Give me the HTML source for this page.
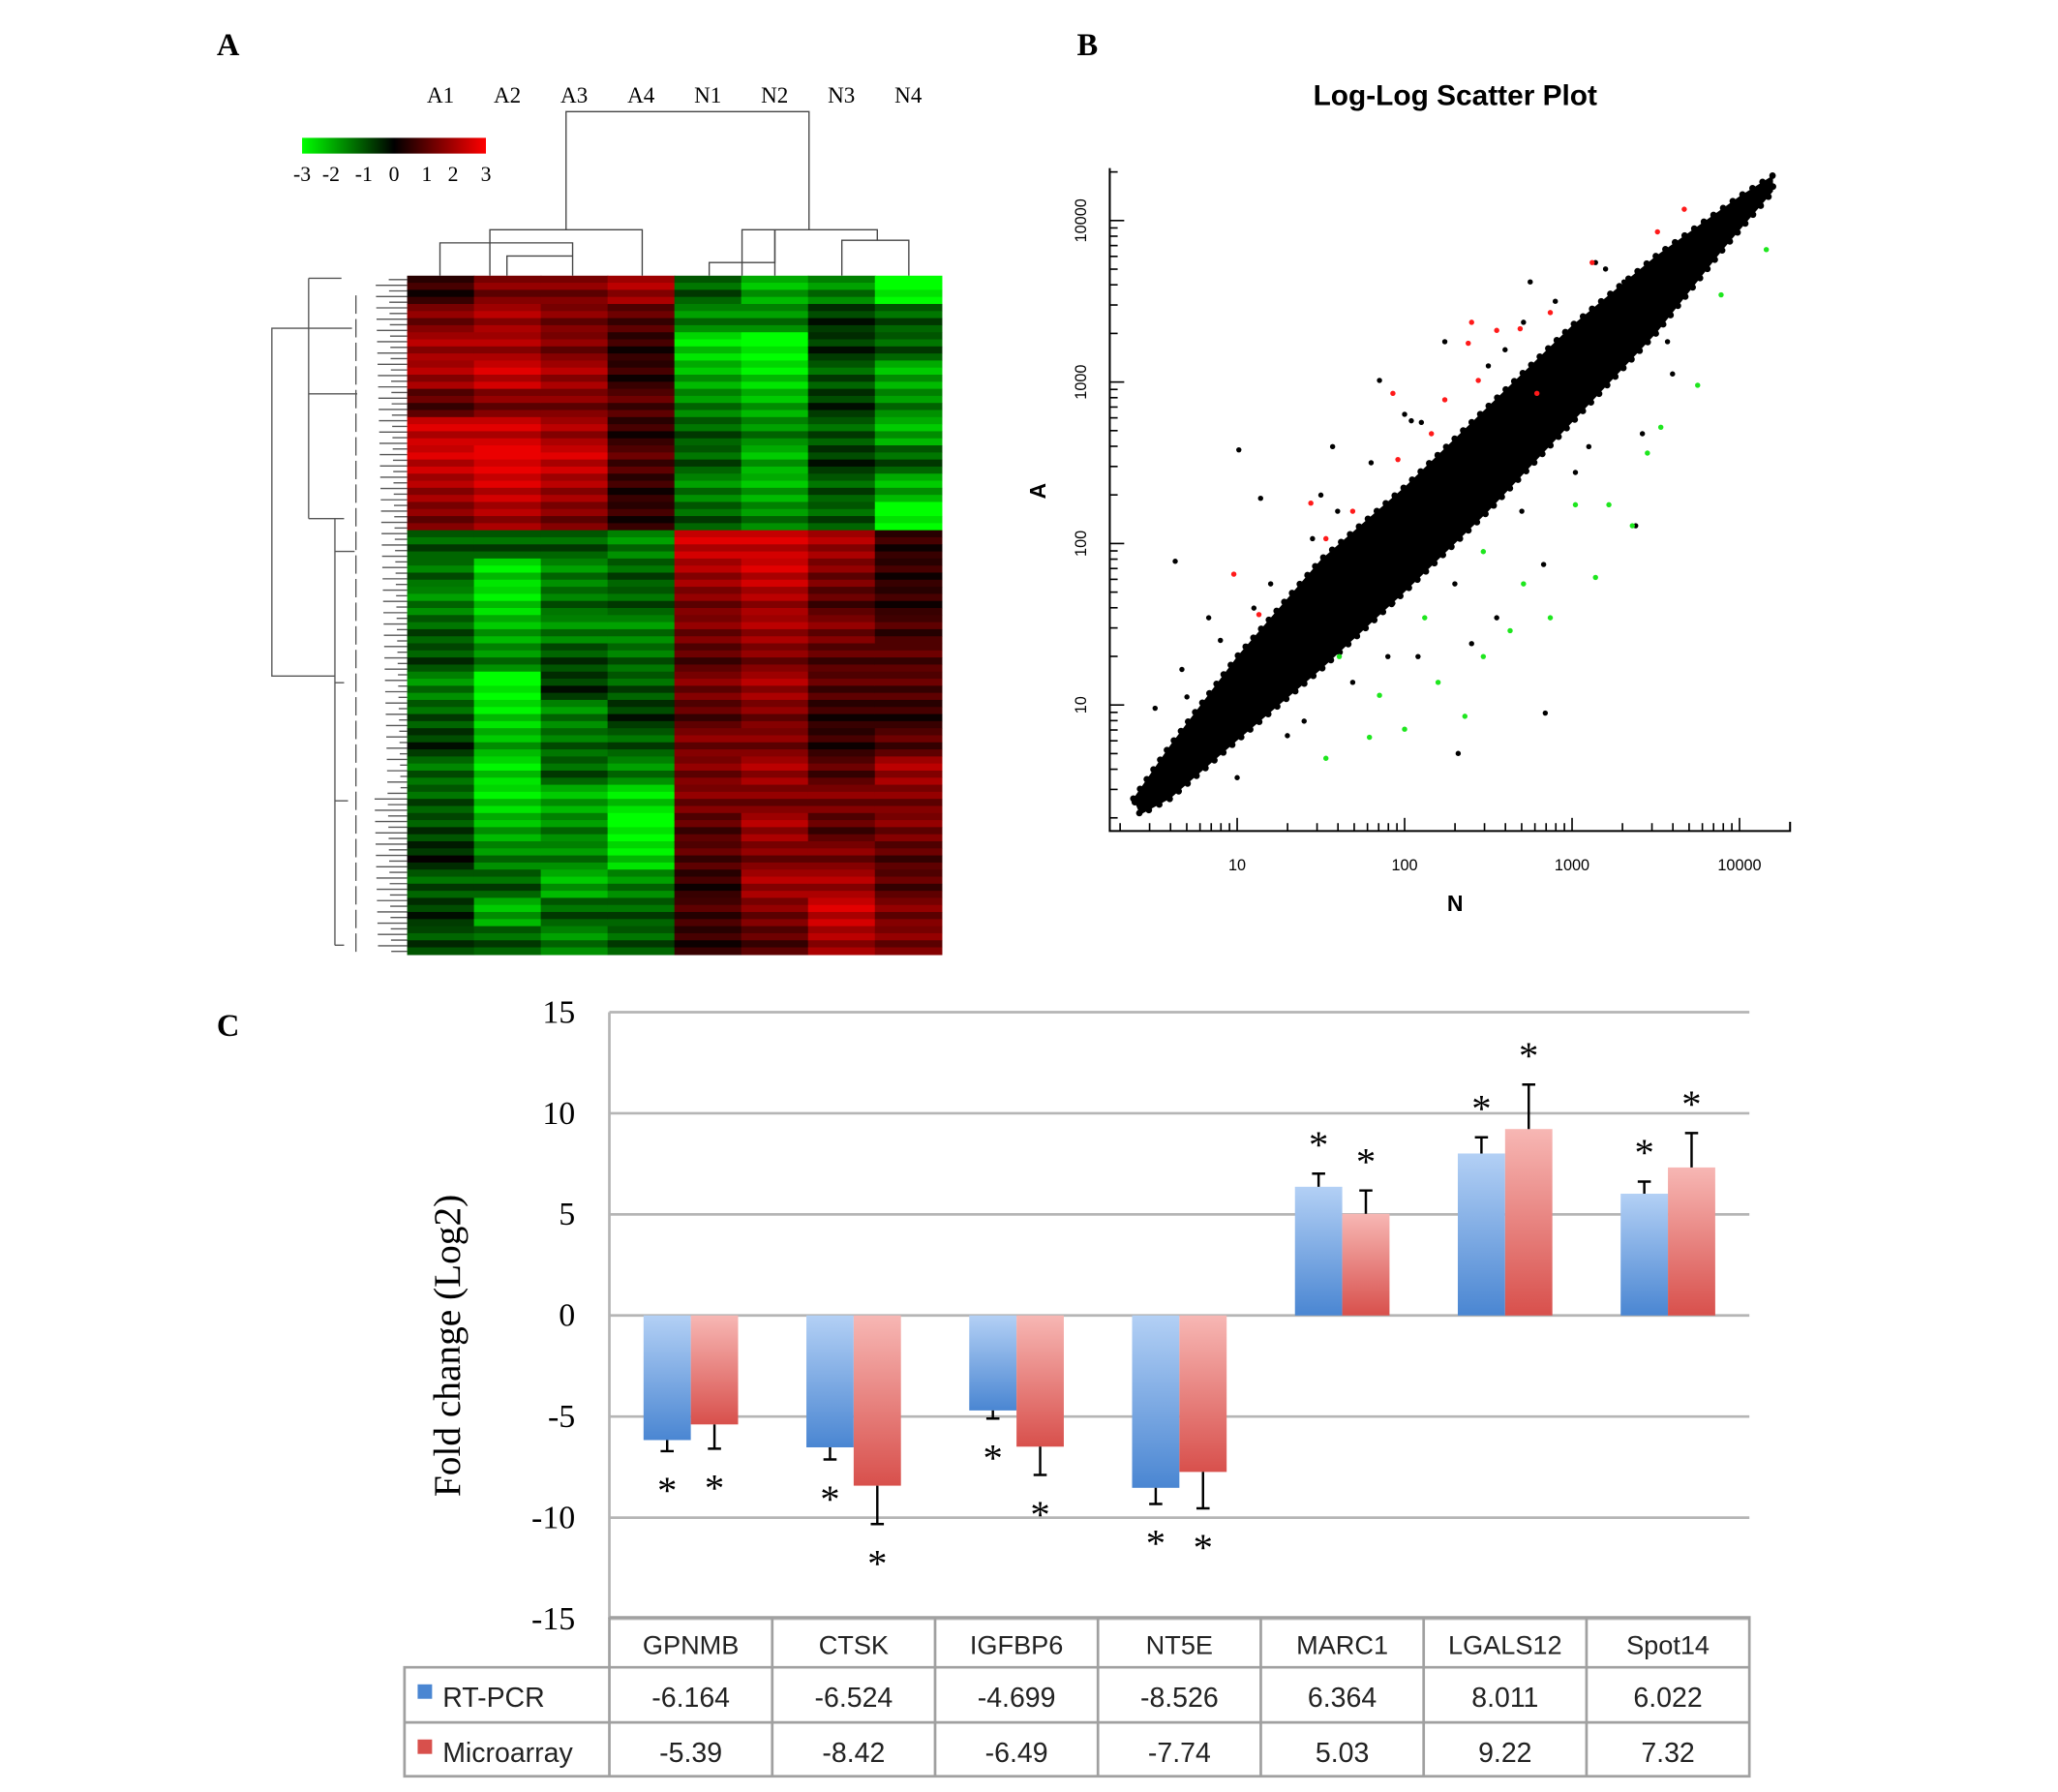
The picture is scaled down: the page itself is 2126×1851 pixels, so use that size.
<!DOCTYPE html>
<html><head><meta charset="utf-8"><style>
html,body{margin:0;padding:0;background:#fff}
svg{display:block}
.tm{font-family:"Liberation Serif",serif}
.ss{font-family:"Liberation Sans",sans-serif}
</style></head><body>
<svg id="fig" xmlns="http://www.w3.org/2000/svg" width="2126" height="1851" viewBox="0 0 1567 1365" preserveAspectRatio="none">
<defs>
<linearGradient id="gb" x1="0" y1="0" x2="0" y2="1"><stop offset="0" stop-color="#b3d0f5"/><stop offset="1" stop-color="#4a86d2"/></linearGradient>
<linearGradient id="gr" x1="0" y1="0" x2="0" y2="1"><stop offset="0" stop-color="#f7b7b4"/><stop offset="1" stop-color="#d8504c"/></linearGradient>
<linearGradient id="cbar" x1="0" y1="0" x2="1" y2="0"><stop offset="0" stop-color="#00ff00"/><stop offset="0.5" stop-color="#000"/><stop offset="1" stop-color="#ff0000"/></linearGradient>
</defs>
<text class="tm" x="165" y="42" font-size="24" font-weight="bold">A</text>
<text class="tm" x="820" y="42" font-size="24" font-weight="bold">B</text>
<text class="tm" x="165" y="789" font-size="24" font-weight="bold">C</text>
<g id="heat"></g>
<g id="scatter"></g>
<g id="bars"></g>
</svg>
<script>
const NS="http://www.w3.org/2000/svg";
function mk(tag,attrs,parent,txt){const e=document.createElementNS(NS,tag);for(const k in attrs)e.setAttribute(k,attrs[k]);if(txt!==undefined)e.textContent=txt;parent.appendChild(e);return e;}

// ---------- Heatmap data ----------
const heatSamples=["A1","A2","A3","A4","N1","N2","N3","N4"];
const heatA1=[0.5,1.5,2,2,1,2.5,2.5,2,1.5,-1,-1.2,-1.5,-1,-0.8,-1.5,-1,-0.5,-1.2,-1,-0.8,-0.3,-1,-0.5,-0.8];
const heatA2=[1.5,2,2,2.5,1.5,2.5,3,2.5,2,-1,-2.5,-2.5,-2,-1.5,-3,-2.5,-2,-2.5,-2.5,-2,-1.5,-1,-2,-1];
const heatA3=[1.5,1.5,1.5,2,1.5,2,2.5,2,1.5,-1,-1.5,-1.2,-1.5,-0.8,-0.5,-1.5,-1.2,-1,-2,-1.5,-1.5,-2,-1,-1.5];
const heatA4=[2,1,0.5,0.5,1,0.5,1,0.5,0.5,-1.5,-1,-1,-1.5,-1.2,-1,-0.5,-1,-1.5,-2.5,-3,-2.5,-1.5,-1,-1];
const heatN1=[-1,-1.5,-2.5,-2,-1.5,-1,-1,-1.5,-1,2.5,2,1.5,1.5,1,1.5,1,1.5,1.5,1.5,1,1,0.5,0.8,0.5];
const heatN2=[-2,-1.5,-3,-2.5,-2,-1.5,-2,-2,-1.5,2.5,2.5,2,2,1.5,2,1.5,1.5,2,1.5,2,1.5,2,1.5,1];
const heatN3=[-1.5,-0.5,-0.5,-1,-0.5,-1,-0.5,-1,-1,2,1.5,1,1.5,1,1,0.5,0.5,1,1.5,1,1.5,2,2.5,2];
const heatN4=[-3,-1,-1,-2,-1.5,-2,-1,-2,-3,0.5,0.5,0.5,0.8,1,1,0.5,1,2,1.5,1.5,1,1,1.5,1.5];
const heatStripe=[0,0.4,-0.35,0.2];
const colorTicks=["-3","-2","-1","0","1","2","3"];

const heat=document.getElementById('heat');
const hx0=310,hx1=717,hy0=210,hy1=727;
const heatCols=[heatA1,heatA2,heatA3,heatA4,heatN1,heatN2,heatN3,heatN4];
const cw=(hx1-hx0)/heatSamples.length, ng=heatA1.length, gh=(hy1-hy0)/ng, sh=gh/heatStripe.length;
function hcol(v){v=Math.max(-3,Math.min(3,v));if(v>=0)return `rgb(${Math.round(v/3*235)},0,0)`;return `rgb(0,${Math.round(-v/3*255)},0)`;}
heatCols.forEach((col,ci)=>{
  col.forEach((v,gi)=>{
    heatStripe.forEach((j,si)=>{
      const val=v+j*Math.sign(v||1);
      const r=mk('rect',{x:hx0+ci*cw,y:hy0+gi*gh+si*sh,width:cw+0.5,height:sh+0.5,fill:hcol(val)},heat);
      
      
    });
  });
  const t=mk('text',{x:hx0+ci*cw+cw/2,y:78,'text-anchor':'middle','font-size':17,class:'tm'},heat,heatSamples[ci]);
  
  
});
const cb=mk('rect',{x:230,y:105,width:140,height:12,fill:'url(#cbar)'},heat);


colorTicks.forEach((t,i)=>{
  const xs=[230,252,277,300,325,345,370];
  const e=mk('text',{x:xs[i],y:138,'text-anchor':'middle','font-size':16,class:'tm'},heat,t);
  
  
});
const dg=mk('g',{stroke:'#444','stroke-width':1,fill:'none'},heat);


[["M431 175V85H616V175"],["M373 210V175H489V210"],["M335 210V185H436V210"],["M386 210V195H436"],["M565 210V175H668V183"],["M540 210V200H590V175"],["M641 210V183H692V210"],["M590 175V210"]].forEach(d=>mk('path',{d:d[0]},dg));
const rg=mk('g',{stroke:'#555','stroke-width':1,fill:'none'},heat);


mk('path',{d:'M235 250H207V515H255'},rg);
mk('path',{d:'M235 212V395M255 395V720M235 212H260M235 250H268M235 300H272M235 395H262M255 420H270M255 520H262M255 610H265M255 720H262'},rg);
for(let y=213;y<726;y+=4.3){mk('path',{d:`M${285+((y*7)%20)} ${y}H310`},rg);}
for(let y=225;y<720;y+=18){mk('path',{d:`M${262+((y*3)%18)} ${y}V${y+14}`},rg);}

// ---------- Scatter data ----------
const xTickLabels=["10","100","1000","10000"];
const yTickLabels=["10","100","1000","10000"];
const bandUpper=[[0.38,0.42],[0.6,0.75],[1.0,1.3],[1.5,1.9],[2.0,2.35],[2.5,2.85],[3.0,3.35],[3.5,3.78],[4.0,4.15],[4.2,4.28]];
const bandLower=[[4.2,4.18],[3.9,3.82],[3.5,3.3],[3.0,2.75],[2.5,2.2],[2.0,1.7],[1.5,1.22],[1.0,0.78],[0.6,0.42],[0.42,0.32]];
const blackN=[1.01,0.63,2.84,2.32,2.04,1.57,2.75,1.14,3.14,2.71,3.31,3.38,2.83,2.40,1.45,0.83,0.51,1.85,2.24,1.38,2.55,3.02,3.42,3.57,3.81,1.69,1.30,2.08,1.93,0.67,0.9,1.2,1.6,1.8,2.1,2.6,2.9,3.2,1.0,1.4,1.9,2.3,2.7,3.1,3.6,0.7,1.1,1.5,2.0,2.5];
const blackA=[2.58,1.89,0.95,0.70,2.76,2.60,3.62,2.28,3.74,3.37,3.62,2.11,1.87,1.38,2.03,1.54,0.98,3.01,3.25,1.71,1.54,2.44,2.68,3.25,3.74,1.14,0.81,1.30,1.63,1.22,1.4,1.75,2.2,2.5,2.75,3.2,3.5,3.7,0.55,0.9,1.3,1.75,2.2,2.6,3.05,1.05,1.6,2.3,2.8,3.1];
const redN=[2.40,2.38,2.55,2.69,2.87,3.51,3.67,3.12,2.16,1.96,1.93,0.98,1.13,1.44,1.53,1.69,2.44,2.24,2.79];
const redA=[3.37,3.24,3.32,3.33,3.43,3.93,4.07,3.74,2.68,2.52,2.93,1.81,1.56,2.25,2.03,2.20,3.01,2.89,2.93];
const greenN=[4.16,3.89,3.75,3.53,3.36,3.22,3.02,3.14,2.87,2.71,2.63,2.47,2.20,2.12,1.85,1.79,1.53,2.00,2.36,2.47,3.45,1.61];
const greenA=[3.82,3.54,2.98,2.72,2.11,2.24,2.24,1.79,1.54,1.75,1.46,1.30,1.14,1.54,1.06,0.80,0.67,0.85,0.93,1.95,2.56,1.30];

const sc=document.getElementById('scatter');
const sx=v=>814.5+v*127.5, sy=v=>660-v*123;
const ax=mk('path',{d:'M845 128V633H1363V626',stroke:'#000','stroke-width':1.5,fill:'none'},sc);


const tg=mk('g',{stroke:'#000','stroke-width':1.2},sc);


for(let d=0;d<5;d++)for(let m=1;m<10;m++){
  const lv=d+Math.log10(m);
  if(sx(lv)>848&&sx(lv)<1362) mk('line',{x1:sx(lv),x2:sx(lv),y1:633,y2:m==1?623:627},tg);
  if(sy(lv)>130&&sy(lv)<630) mk('line',{x1:845,x2:m==1?856:851,y1:sy(lv),y2:sy(lv)},tg);
}
xTickLabels.forEach((t,i)=>{const e=mk('text',{x:sx(i+1),y:663,'text-anchor':'middle','font-size':12,class:'ss'},sc,t);

});
yTickLabels.forEach((t,i)=>{const e=mk('text',{x:0,y:0,'text-anchor':'middle','font-size':12,class:'ss',transform:`translate(827,${sy(i+1)}) rotate(-90)`},sc,t);

});
const band=bandUpper.concat(bandLower).map(p=>sx(p[0])+','+sy(p[1])).join(' ');
const bp=mk('polygon',{points:band,fill:'#000',stroke:'#000','stroke-width':5,'stroke-dasharray':'0 9','stroke-linecap':'round','stroke-linejoin':'round'},sc);


function dots(N,A,c,name){N.forEach((n,i)=>{const e=mk('circle',{cx:sx(n),cy:sy(A[i]),r:2,fill:c},sc);

});}
dots(blackN,blackA,'#000','scatter-point');
dots(redN,redA,'#ff1a1a','up-regulated-point');
dots(greenN,greenA,'#1ee61e','down-regulated-point');
let e1=mk('text',{x:1108,y:80,'text-anchor':'middle','font-size':22,'font-weight':'bold',class:'ss'},sc,'Log-Log Scatter Plot');


e1=mk('text',{x:1108,y:694,'text-anchor':'middle','font-size':17,'font-weight':'bold',class:'ss'},sc,'N');


e1=mk('text',{x:0,y:0,'text-anchor':'middle','font-size':17,'font-weight':'bold',class:'ss',transform:'translate(796,374) rotate(-90)'},sc,'A');



// ---------- Bar chart data ----------
const genes=["GPNMB","CTSK","IGFBP6","NT5E","MARC1","LGALS12","Spot14"];
const rtpcr=[-6.164,-6.524,-4.699,-8.526,6.364,8.011,6.022];
const micro=[-5.39,-8.42,-6.49,-7.74,5.03,9.22,7.32];
const rtLabels=["-6.164","-6.524","-4.699","-8.526","6.364","8.011","6.022"];
const miLabels=["-5.39","-8.42","-6.49","-7.74","5.03","9.22","7.32"];
const rtErr=[0.55,0.6,0.4,0.8,0.65,0.8,0.6];
const miErr=[1.2,1.9,1.4,1.8,1.15,2.2,1.7];
const yTicks=[15,10,5,0,-5,-10,-15];

const bc=document.getElementById('bars');
const px0=464,px1=1332;
const vy=v=>1002-v*15.4;
const catW=(px1-px0)/genes.length;
yTicks.forEach(t=>{
  const g=mk('line',{x1:px0,x2:px1,y1:vy(t),y2:vy(t),stroke:'#b5b5b5','stroke-width':2},bc);
  
  
  const l=mk('text',{x:438,y:vy(t)+8,'text-anchor':'end','font-size':25,class:'tm'},bc,String(t));
  
  
});
const yax=mk('line',{x1:px0,x2:px0,y1:vy(15),y2:vy(-15),stroke:'#b5b5b5','stroke-width':2},bc);


const yt=mk('text',{x:0,y:0,'text-anchor':'middle','font-size':29,class:'tm',transform:'translate(350,1025) rotate(-90)'},bc,'Fold change (Log2)');


const bw=36;
function drawBar(v,err,x,fill,name){
  const y0=vy(0),y1=vy(v);
  const r=mk('rect',{x:x,y:Math.min(y0,y1),width:bw,height:Math.abs(y1-y0),fill:fill},bc);
  
  
  const s=Math.sign(v), ye=vy(v+s*err), cx=x+bw/2;
  const eb=mk('path',{d:`M${cx} ${y1}V${ye}M${cx-5} ${ye}H${cx+5}`,stroke:'#000','stroke-width':1.8,fill:'none'},bc);
  
  
  const ay=s>0?ye-12:ye+40;
  const st=mk('text',{x:cx,y:ay,'text-anchor':'middle','font-size':30,class:'tm'},bc,'*');
  
  
}
genes.forEach((g,i)=>{
  const c=px0+catW*i+catW/2;
  drawBar(rtpcr[i],rtErr[i],c-bw,'url(#gb)','bar-rt-pcr');
  drawBar(micro[i],miErr[i],c,'url(#gr)','bar-microarray');
});
const tb=mk('g',{stroke:'#a0a0a0','stroke-width':2,fill:'none'},bc);


const r0=1232,r1=1270,r2=1312,r3=1353;
mk('path',{d:`M${px0} ${r0}H${px1}V${r3}H308V${r1}H${px1}M308 ${r2}H${px1}M308 ${r1}V${r3}`},tb);
for(let i=0;i<genes.length;i++)mk('line',{x1:px0+catW*i,x2:px0+catW*i,y1:r0,y2:r3},tb);
genes.forEach((g,i)=>{
  const c=px0+catW*i+catW/2;
  const h=mk('text',{x:c,y:r0+28,'text-anchor':'middle','font-size':20,fill:'#222',class:'ss'},bc,g);
  
  
  const a=mk('text',{x:c,y:r1+30,'text-anchor':'middle','font-size':21,fill:'#222',class:'ss'},bc,rtLabels[i]);
  
  
  const b=mk('text',{x:c,y:r2+30,'text-anchor':'middle','font-size':21,fill:'#222',class:'ss'},bc,miLabels[i]);
  
  
});
let lg=mk('rect',{x:318,y:1283,width:11,height:11,fill:'#4a86d2'},bc);


lg=mk('text',{x:337,y:1300,'font-size':21,fill:'#222',class:'ss'},bc,'RT-PCR');


lg=mk('rect',{x:318,y:1325,width:11,height:11,fill:'#d8504c'},bc);


lg=mk('text',{x:337,y:1342,'font-size':21,fill:'#222',class:'ss'},bc,'Microarray');


</script>
</body></html>
